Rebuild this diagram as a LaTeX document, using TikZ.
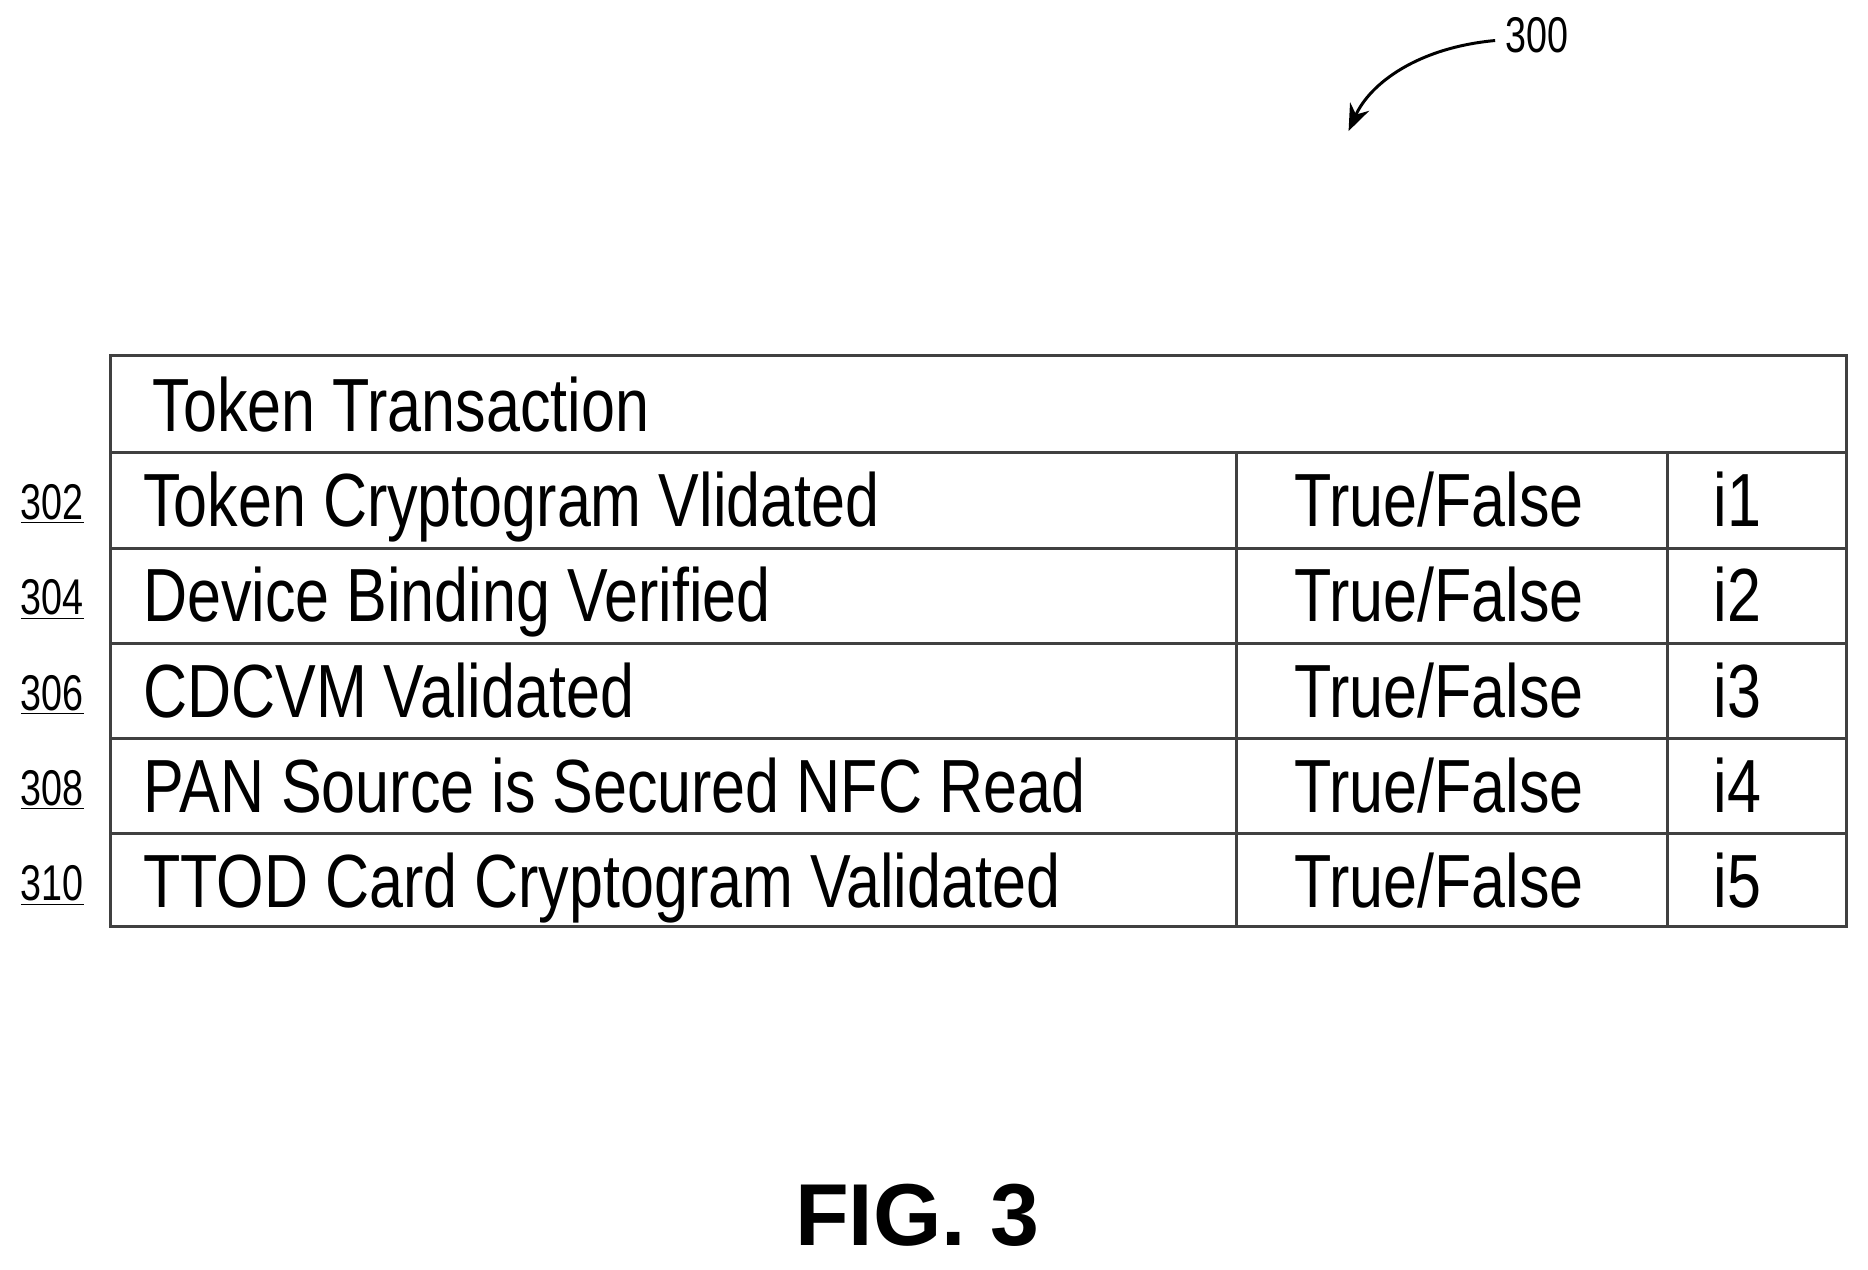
\documentclass[tikz,border=0pt]{standalone}
\usepackage{fontspec}
\setmainfont{Liberation Sans}
\usetikzlibrary{arrows.meta}
\begin{document}
\begin{tikzpicture}[x=0.02cm,y=-0.02cm,
  grid/.style={draw=black!75,line width=0.05cm},
  cell/.style={anchor=base west,inner sep=0,font=\fontsize{36}{40}\selectfont,xscale=0.81},
  ref/.style={anchor=base,inner sep=0,font=\fontsize{24}{26}\selectfont,xscale=0.75}]
\useasboundingbox (0,0) rectangle (1568,1066);
\draw[grid] (93,298) rectangle (1550,778);
\foreach \y in {380,460,540,620,700} \draw[grid] (93,\y) -- (1550,\y);
\draw[grid] (1038,380) -- (1038,778);
\draw[grid] (1400,380) -- (1400,778);
\node[cell] (h) at (128,362) {Token Transaction};
\foreach \i/\t/\r [count=\k] in {
  i1/Token Cryptogram Vlidated/302,
  i2/Device Binding Verified/304,
  i3/CDCVM Validated/306,
  i4/PAN Source is Secured NFC Read/308,
  i5/TTOD Card Cryptogram Validated/310}{
  \pgfmathsetmacro{\yy}{362+80*\k}
  \pgfmathsetmacro{\ry}{356+80*\k}
  \node[cell] (t\k) at (120,\yy) {\t};
  \node[cell] (v\k) at (1086,\yy) {True/False};
  \node[cell] (n\k) at (1438,\yy) {\i};
  \node[ref] (r\k) at (44,\ry) {\underline{\r}};
}
\node[ref] (lbl) at (1290,44) {300};
\coordinate (tip) at (1132,110);
\draw[line width=0.05cm,-{Stealth[length=0.45cm,width=0.35cm]}] (1255,34) .. controls (1190,40) and (1150,70) .. (tip);
\node[inner sep=0,font=\bfseries\fontsize{42}{46}\selectfont] (fig) at (770,1020) {FIG. 3};
\end{tikzpicture}
\end{document}
